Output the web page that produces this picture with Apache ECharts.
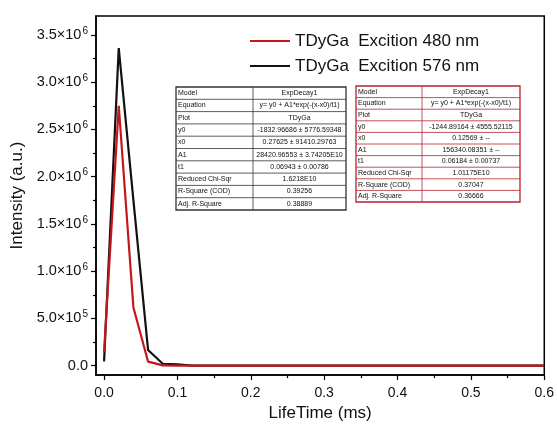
<!DOCTYPE html>
<html>
<head>
<meta charset="utf-8">
<script src="https://cdn.jsdelivr.net/npm/echarts@6/dist/echarts.min.js"></script>
<style>
 html,body{margin:0;padding:0;background:#fff;}
 #container{width:557px;height:427px;}
</style>
</head>
<body>
<div id="container"></div>
<script>
// 时间 (ms)
var times = [0, 0.02, 0.04, 0.06, 0.08, 0.10, 0.12, 0.14, 0.16, 0.18, 0.20, 0.22, 0.24, 0.26, 0.28, 0.30,
             0.32, 0.34, 0.36, 0.38, 0.40, 0.42, 0.44, 0.46, 0.48, 0.50, 0.52, 0.54, 0.56, 0.58, 0.60];
var red480 = [145000, 2750000, 615000, 42000, 3000, 0, 0, 0, 0, 0, 0, 0, 0, 0, 0, 0,
              0, 0, 0, 0, 0, 0, 0, 0, 0, 0, 0, 0, 0, 0, 0];
var black576 = [45000, 3360000, 1750000, 165000, 20000, 15000, 0, 0, 0, 0, 0, 0, 0, 0, 0, 0,
                0, 0, 0, 0, 0, 0, 0, 0, 0, 0, 0, 0, 0, 0, 0];
var seriesNames = ["TDyGa  Excition 480 nm", "TDyGa  Excition 576 nm"];

var xTicks = [0, 0.1, 0.2, 0.3, 0.4, 0.5, 0.6];
var xMinor = [0.05, 0.15, 0.25, 0.35, 0.45, 0.55];
var yTicks = [0, 500000, 1000000, 1500000, 2000000, 2500000, 3000000, 3500000];
var yMinor = [250000, 750000, 1250000, 1750000, 2250000, 2750000, 3250000];

// 拟合结果表
var rowLabels = ["Model", "Equation", "Plot", "y0", "x0", "A1", "t1", "Reduced Chi-Sqr", "R-Square (COD)", "Adj. R-Square"];
var fit1 = ["ExpDecay1", "y= y0 + A1*exp(-(x-x0)/t1)", "TDyGa", "-1832.96686 \u00b1 5776.59348", "0.27625 \u00b1 91410.29763",
            "28420.96553 \u00b1 3.74205E10", "0.06943 \u00b1 0.00786", "1.6218E10", "0.39256", "0.38889"];
var fit2 = ["ExpDecay1", "y= y0 + A1*exp(-(x-x0)/t1)", "TDyGa", "-1244.89164 \u00b1 4555.52115", "0.12569 \u00b1 --",
            "156340.08351 \u00b1 --", "0.06184 \u00b1 0.00737", "1.01175E10", "0.37047", "0.36666"];

function makeTable(x, y, w, h, split, values, color){
  var rh = h / rowLabels.length;
  var els = [];
  els.push({type:'rect', shape:{x:x, y:y, width:w, height:h}, style:{fill:'#fff', stroke:color, lineWidth:1.3}});
  for (var i = 1; i < rowLabels.length; i++) {
    els.push({type:'line', shape:{x1:x, y1:y+i*rh, x2:x+w, y2:y+i*rh}, style:{stroke:color, lineWidth:0.8}});
  }
  els.push({type:'line', shape:{x1:x+split, y1:y, x2:x+split, y2:y+h}, style:{stroke:color, lineWidth:0.8}});
  for (var j = 0; j < rowLabels.length; j++) {
    els.push({type:'text', x:x+2, y:y+j*rh+rh/2, style:{text:rowLabels[j], fill:'#111', font:'7px "Liberation Sans", Arial', verticalAlign:'middle', align:'left'}});
    els.push({type:'text', x:x+split+(w-split)/2, y:y+j*rh+rh/2, style:{text:values[j], fill:'#111', font:'7px "Liberation Sans", Arial', verticalAlign:'middle', align:'center'}});
  }
  return {type:'group', z:100, children:els};
}

function pair(xs, ys){
  return xs.map(function(v, i){ return [v, ys[i]]; });
}

function yFmt(v){
  if (v === 0) return '{m|0.0}';
  var e = Math.floor(Math.log10(v) + 1e-9);
  var m = v / Math.pow(10, e);
  return '{m|' + m.toFixed(1) + '\u00d710}{s|' + e + '}';
}

var dom = document.getElementById("container");
var myChart = echarts.init(dom);
var option = {
  backgroundColor: '#fff',
  animation: false,
  textStyle: {fontFamily: '"Liberation Sans", Arial, sans-serif'},
  grid: {left: 96, right: 9, top: 16, bottom: 45, show: true, borderColor: '#000', borderWidth: 1.5, backgroundColor: 'transparent'},
  legend: {
    data: seriesNames,
    orient: 'vertical',
    left: 245,
    top: 26,
    icon: 'rect',
    itemWidth: 40,
    itemHeight: 2,
    itemGap: 5,
    textStyle: {fontSize: 17, lineHeight: 20, color: '#111', fontFamily: '"Liberation Sans", Arial'}
  },
  xAxis: [{
    type: 'value', min: -0.011, max: 0.6,
    name: 'LifeTime (ms)', nameLocation: 'middle', nameGap: 27,
    nameTextStyle: {fontSize: 17, color: '#111'},
    axisLine: {onZero: false, lineStyle: {color: '#000', width: 1.5}},
    axisTick: {customValues: xTicks, length: 5, lineStyle: {color: '#000', width: 1.2}},
    axisLabel: {customValues: xTicks, margin: 11, fontSize: 14, color: '#111', formatter: function(v){ return v.toFixed(1); }},
    splitLine: {show: false}
  }, {
    type: 'value', min: -0.011, max: 0.6, position: 'bottom',
    axisLine: {show: false, onZero: false},
    axisTick: {customValues: xMinor, length: 3, lineStyle: {color: '#000', width: 1.2}},
    axisLabel: {show: false}, splitLine: {show: false}
  }],
  yAxis: [{
    type: 'value', min: -100000, max: 3700000,
    name: 'Intensity (a.u.)', nameLocation: 'middle', nameGap: 70,
    nameTextStyle: {fontSize: 17, color: '#111'},
    axisLine: {show: true, onZero: false, lineStyle: {color: '#000', width: 1.5}},
    axisTick: {customValues: yTicks, length: 5, lineStyle: {color: '#000', width: 1.2}},
    axisLabel: {customValues: yTicks, margin: 8, color: '#111', formatter: yFmt,
      rich: {m: {fontSize: 14.5, color: '#111'}, s: {fontSize: 10, color: '#111', padding: [0, 0, 8, 1]}}},
    splitLine: {show: false}
  }, {
    type: 'value', min: -100000, max: 3700000, position: 'left',
    axisLine: {show: false, onZero: false},
    axisTick: {customValues: yMinor, length: 3, lineStyle: {color: '#000', width: 1.2}},
    axisLabel: {show: false}, splitLine: {show: false}
  }],
  series: [{
    name: seriesNames[0], type: 'line', data: pair(times, red480),
    symbol: 'none', z: 4, color: '#c4161c', lineStyle: {width: 2.2, color: '#c4161c'}
  }, {
    name: seriesNames[1], type: 'line', data: pair(times, black576),
    symbol: 'none', z: 3, color: '#111', lineStyle: {width: 2.2, color: '#111'}
  }],
  graphic: [
    makeTable(176, 87, 170, 123, 77, fit1, '#333'),
    makeTable(356, 86, 164, 116, 66, fit2, '#b3262c')
  ]
};
myChart.setOption(option, true);
</script>
</body>
</html>
